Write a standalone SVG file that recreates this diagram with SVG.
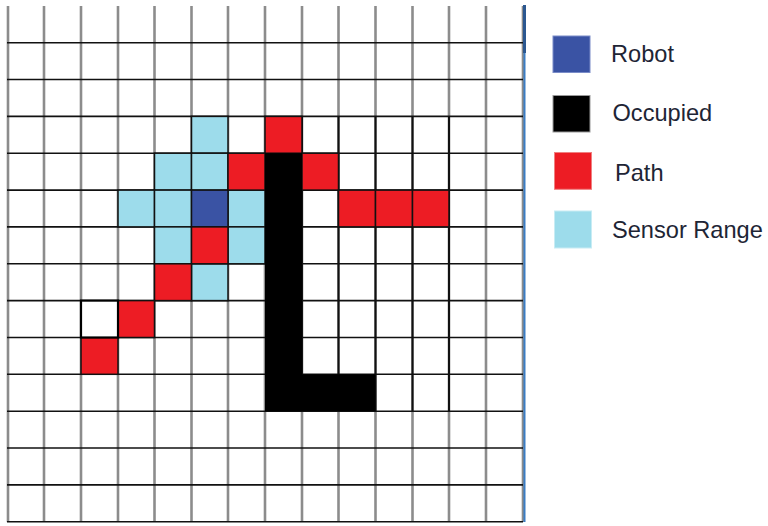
<svg xmlns="http://www.w3.org/2000/svg" width="768" height="526" viewBox="0 0 768 526">
<style>
.v{stroke:#8c8c8c;stroke-width:2.6}
.vb{stroke:#111;stroke-width:2}
.h{stroke:#111;stroke-width:1.6}
.c{stroke:#111;stroke-width:1.5}
.sr{fill:#9DDCEB}
.rb{fill:#3A53A4}
.pt{fill:#ED1C24}
.oc{fill:#000}
.lbl{font-family:"Liberation Sans",Arial,sans-serif;font-size:23.6px;fill:#1e2535}
</style>
<rect width="768" height="526" fill="#fff"/>
<g id="grid">
<g id="vlines">
<line class="v" x1="8" y1="6" x2="8" y2="522"/>
<line class="v" x1="44" y1="6" x2="44" y2="522"/>
<line class="v" x1="81" y1="6" x2="81" y2="522"/>
<line class="v" x1="118" y1="6" x2="118" y2="522"/>
<line class="v" x1="154.5" y1="6" x2="154.5" y2="522"/>
<line class="v" x1="191.5" y1="6" x2="191.5" y2="522"/>
<line class="v" x1="228" y1="6" x2="228" y2="522"/>
<line class="v" x1="265" y1="6" x2="265" y2="522"/>
<line class="v" x1="302" y1="6" x2="302" y2="522"/>
<line class="v" x1="338.5" y1="6" x2="338.5" y2="522"/>
<line class="v" x1="375.5" y1="6" x2="375.5" y2="522"/>
<line class="v" x1="412.5" y1="6" x2="412.5" y2="522"/>
<line class="v" x1="449" y1="6" x2="449" y2="522"/>
<line class="v" x1="486" y1="6" x2="486" y2="522"/>
<line class="v" x1="523" y1="6" x2="523" y2="522"/>
</g>
<g id="vblack">
<line class="vb" x1="302" y1="116.4" x2="302" y2="411.2"/>
<line class="vb" x1="338.5" y1="116.4" x2="338.5" y2="411.2"/>
<line class="vb" x1="375.5" y1="116.4" x2="375.5" y2="411.2"/>
<line class="vb" x1="412.5" y1="116.4" x2="412.5" y2="411.2"/>
<line class="vb" x1="449" y1="116.4" x2="449" y2="411.2"/>
</g>
<g id="hlines">
<line class="h" x1="7" y1="42.7" x2="523" y2="42.7"/>
<line class="h" x1="7" y1="79.5" x2="523" y2="79.5"/>
<line class="h" x1="7" y1="116.4" x2="523" y2="116.4"/>
<line class="h" x1="7" y1="153.2" x2="523" y2="153.2"/>
<line class="h" x1="7" y1="190.1" x2="523" y2="190.1"/>
<line class="h" x1="7" y1="226.9" x2="523" y2="226.9"/>
<line class="h" x1="7" y1="263.8" x2="523" y2="263.8"/>
<line class="h" x1="7" y1="300.6" x2="523" y2="300.6"/>
<line class="h" x1="7" y1="337.5" x2="523" y2="337.5"/>
<line class="h" x1="7" y1="374.3" x2="523" y2="374.3"/>
<line class="h" x1="7" y1="411.2" x2="523" y2="411.2"/>
<line class="h" x1="7" y1="448" x2="523" y2="448"/>
<line class="h" x1="7" y1="484.9" x2="523" y2="484.9"/>
<line class="h" x1="7" y1="521.7" x2="523" y2="521.7" stroke-width="2"/>
</g>
<line x1="524.5" y1="5" x2="524.5" y2="522" stroke="#3b7dc4" stroke-width="2"/>
<line x1="524.5" y1="5" x2="524.5" y2="53" stroke="#2b5790" stroke-width="3"/>
</g>
<g id="sensor-range">
<rect class="sr c" x="191.5" y="116.4" width="36.5" height="36.8"/>
<rect class="sr c" x="154.5" y="153.2" width="37" height="36.9"/>
<rect class="sr c" x="191.5" y="153.2" width="36.5" height="36.9"/>
<rect class="sr c" x="118" y="190.1" width="36.5" height="36.8"/>
<rect class="sr c" x="154.5" y="190.1" width="37" height="36.8"/>
<rect class="sr c" x="228" y="190.1" width="37" height="36.8"/>
<rect class="sr c" x="154.5" y="226.9" width="37" height="36.9"/>
<rect class="sr c" x="228" y="226.9" width="37" height="36.9"/>
<rect class="sr c" x="191.5" y="263.8" width="36.5" height="36.8"/>
</g>
<g id="robot">
<rect class="rb c" x="191.5" y="190.1" width="36.5" height="36.8"/>
</g>
<g id="path">
<rect class="pt c" x="265" y="116.4" width="37" height="36.8"/>
<rect class="pt c" x="228" y="153.2" width="37" height="36.9"/>
<rect class="pt c" x="302" y="153.2" width="36.5" height="36.9"/>
<rect class="pt c" x="338.5" y="190.1" width="37" height="36.8"/>
<rect class="pt c" x="375.5" y="190.1" width="37" height="36.8"/>
<rect class="pt c" x="412.5" y="190.1" width="36.5" height="36.8"/>
<rect class="pt c" x="191.5" y="226.9" width="36.5" height="36.9"/>
<rect class="pt c" x="154.5" y="263.8" width="37" height="36.8"/>
<rect class="pt c" x="118" y="300.6" width="36.5" height="36.9"/>
<rect class="pt c" x="81" y="337.5" width="37" height="36.8"/>
</g>
<g id="start-cell">
<rect x="81" y="300.6" width="37" height="36.9" fill="#fff" stroke="#000" stroke-width="2.2"/>
</g>
<g id="occupied">
<rect class="oc" x="265" y="153.2" width="37" height="258"/>
<rect class="oc" x="265" y="374.3" width="110.5" height="36.9"/>
</g>
<g id="legend">
<g id="legend-robot">
<rect x="553" y="36" width="37" height="36.5" fill="#3A53A4" stroke="#7a8cc8" stroke-width="1"/>
<text class="lbl" x="611" y="62">Robot</text>
</g>
<g id="legend-occupied">
<rect x="553" y="95.5" width="37" height="36.5" fill="#000" stroke="#999" stroke-width="1"/>
<text class="lbl" x="612.5" y="121">Occupied</text>
</g>
<g id="legend-path">
<rect x="554.5" y="152.5" width="37" height="36.8" fill="#ED1C24" stroke="#f08080" stroke-width="1"/>
<text class="lbl" x="615" y="181">Path</text>
</g>
<g id="legend-sensor">
<rect x="554.5" y="211" width="37" height="37" fill="#9DDCEB" stroke="#c8ecf4" stroke-width="1"/>
<text class="lbl" x="612" y="238">Sensor Range</text>
</g>
</g>
</svg>
